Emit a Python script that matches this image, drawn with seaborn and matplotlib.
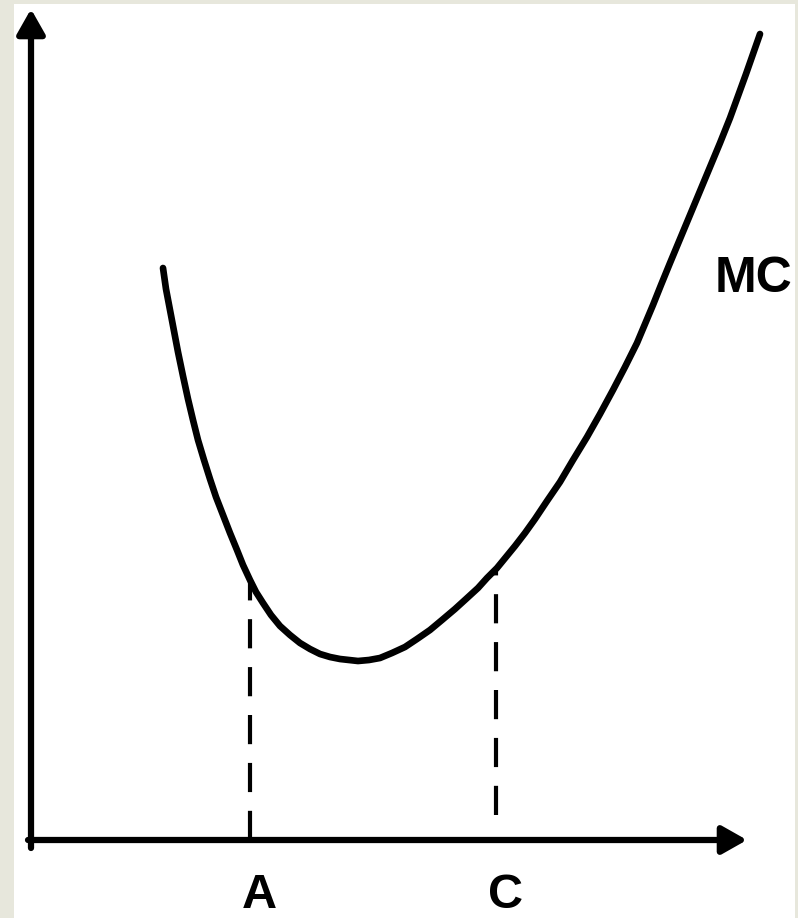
# Curva de custo marginal (MC) com pontos A e C
import matplotlib
matplotlib.use("Agg")
import matplotlib.pyplot as plt
import seaborn as sns

# Pontos da curva (quantidade, custo marginal)
qty = [132, 135, 139, 143, 147, 152, 157, 162, 167, 173, 179, 185, 192, 199, 206,
       212, 219, 225, 232, 240, 249, 259, 269, 279, 289, 299, 309, 318, 327, 338,
       349, 361, 374, 386, 399, 411, 424, 435, 447, 456, 466, 475, 484, 494, 504,
       516, 529, 542, 556, 569, 582, 594, 606, 614, 622, 630, 639, 649, 659, 669,
       679, 689, 699, 707, 715, 722, 729]
mc = [572, 551, 530, 509, 488, 464, 441, 420, 400, 380, 361, 343, 325, 307, 290,
      275, 260, 248, 237, 225, 214, 205, 197, 191, 186, 183, 181, 180, 179, 180,
      182, 187, 193, 201, 210, 220, 231, 241, 252, 262, 272, 283, 294, 307, 321,
      339, 358, 380, 403, 426, 450, 473, 497, 516, 535, 555, 577, 601, 625, 649,
      673, 697, 722, 744, 766, 786, 806]

# Marcas no eixo horizontal
marks = ["A", "C"]
mark_qty = [219, 465]
mark_mc = [260, 272]
mark_bottom = [0, 25]

sns.set_style("white")
fam = ["Liberation Sans Narrow", "Liberation Sans", "DejaVu Sans"]

fig = plt.figure(figsize=(7.98, 9.18), dpi=100)
fig.patch.set_facecolor("#e7e7dc")
ax = fig.add_axes([14 / 798, 0, 781 / 798, 914 / 918])
ax.set_facecolor("white")
ax.set_xlim(-17, 764)
ax.set_ylim(-78, 836)
ax.set_xticks([])
ax.set_yticks([])
sns.despine(ax=ax, left=True, bottom=True)

# Eixos com setas
arr = dict(arrowstyle="-|>,head_length=1.5,head_width=0.85", lw=4.5,
           color="black", shrinkA=0, shrinkB=0)
ax.annotate("", xy=(716, 0), xytext=(-3, 0), arrowprops=arr)
ax.annotate("", xy=(0, 831), xytext=(0, -8), arrowprops=arr)

# Linhas tracejadas de A e C
for q, y0, y1 in zip(mark_qty, mark_bottom, mark_mc):
    ax.plot([q, q], [y0, y1], color="black", lw=3, ls=(0, (7, 4.5)))

# Curva MC
sns.lineplot(x=qty, y=mc, sort=False, color="black", lw=4.8, ax=ax)

for lab, q in zip(marks, mark_qty):
    ax.text(q + 9, -33, lab, ha="center", va="top", fontsize=35,
            fontweight="bold", color="black", family=fam)
ax.text(684, 548, "MC", ha="left", va="baseline", fontsize=36,
        fontweight="bold", color="black", family=fam)

fig.savefig("out.png", dpi=100, facecolor=fig.get_facecolor())
